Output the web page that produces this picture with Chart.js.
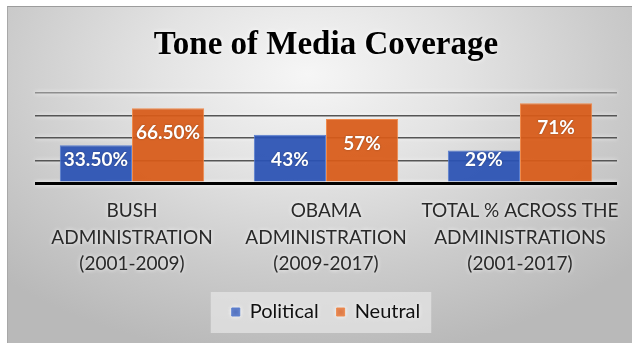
<!DOCTYPE html>
<html><head><meta charset="utf-8">
<script src="https://cdn.jsdelivr.net/npm/chart.js@4/dist/chart.umd.min.js"></script>
<style>
html,body{margin:0;padding:0;background:#fff;overflow:hidden;}
#wrap{position:relative;width:632px;height:345px;}
#panel{position:absolute;left:7px;top:6px;width:625px;height:337px;box-sizing:border-box;
  border-top:1px solid #9c9c9c;border-left:1px solid #a8a8a8;
  background:radial-gradient(ellipse 70% 85% at 48% 20%, #f6f6f6 0%, #e3e3e3 35%, #cbcbcb 70%, #b9b9b9 100%);}
#c{position:absolute;left:0;top:0;width:632px;height:345px;}
</style></head><body>
<div id="wrap"><div id="panel"></div><canvas id="c" width="632" height="345"></canvas></div>
<script>
const chartTitle = 'Tone of Media Coverage';
const categories = [
  ['BUSH', 'ADMINISTRATION', '(2001-2009)'],
  ['OBAMA', 'ADMINISTRATION', '(2009-2017)'],
  ['TOTAL % ACROSS THE', 'ADMINISTRATIONS', '(2001-2017)']
];
const seriesNames = ['Political', 'Neutral'];
const political = [33.5, 43, 29];
const neutral = [66.5, 57, 71];
const yMax = 80;
const yStep = 20;

const BLUE = 'rgba(42, 82, 180, 0.93)';
const ORANGE = 'rgba(216, 90, 24, 0.93)';

function pct(v) {
  return (Number.isInteger(v) ? String(v) : v.toFixed(2)) + '%';
}

// soft light box behind the legend items, then white glow for axis/legend text
const legendBox = {
  id: 'legendBox',
  beforeDraw(chart) {
    const ctx = chart.ctx;
    const boxes = chart.legend && chart.legend.legendHitBoxes;
    if (boxes && boxes.length) {
      const minX = Math.min(...boxes.map(b => b.left));
      const maxX = Math.max(...boxes.map(b => b.left + b.width));
      const top = Math.min(...boxes.map(b => b.top));
      const h = Math.max(...boxes.map(b => b.height));
      ctx.save();
      ctx.fillStyle = 'rgba(228,228,228,0.75)';
      ctx.fillRect(minX - 21, top - 10, (maxX - minX) + 32, h + 21);
      ctx.restore();
    }
    ctx.shadowColor = 'rgba(255,255,255,0.95)';
    ctx.shadowBlur = 4;
  },
  beforeDatasetsDraw(chart) {
    chart.ctx.shadowColor = 'rgba(0,0,0,0)';
    chart.ctx.shadowBlur = 0;
  }
};

const valueLabels = {
  id: 'valueLabels',
  afterDatasetsDraw(chart) {
    const ctx = chart.ctx;
    ctx.save();
    ctx.font = 'bold 19px Lato';
    ctx.fillStyle = '#ffffff';
    ctx.textAlign = 'center';
    ctx.textBaseline = 'middle';
    ctx.shadowColor = 'rgba(0,0,0,0.35)';
    ctx.shadowBlur = 2;
    chart.data.datasets.forEach((ds, di) => {
      chart.getDatasetMeta(di).data.forEach((bar, i) => {
        const y = Math.min(bar.y + 25, bar.base - 22);
        ctx.fillText(pct(ds.data[i]), bar.x, y);
      });
    });
    ctx.restore();
  }
};

const titleDraw = {
  id: 'titleDraw',
  afterDraw(chart) {
    const ctx = chart.ctx;
    const a = chart.chartArea;
    ctx.save();
    ctx.font = 'bold 33px "Liberation Serif"';
    ctx.fillStyle = '#000';
    ctx.textAlign = 'center';
    ctx.textBaseline = 'alphabetic';
    ctx.shadowColor = 'rgba(255,255,255,1)';
    ctx.shadowBlur = 5;
    ctx.fillText(chartTitle, (a.left + a.right) / 2, a.top - 39);
    ctx.restore();
  }
};

new Chart(document.getElementById('c'), {
  type: 'bar',
  data: {
    labels: categories,
    datasets: [
      { label: seriesNames[0], data: political, backgroundColor: BLUE, borderColor: '#5a7fd0', borderWidth: 1 },
      { label: seriesNames[1], data: neutral, backgroundColor: ORANGE, borderColor: '#ef8a4c', borderWidth: 1 }
    ]
  },
  options: {
    responsive: false,
    devicePixelRatio: 1,
    animation: false,
    layout: { padding: { top: 93, left: 35, right: 15, bottom: 13 } },
    datasets: { bar: { categoryPercentage: 0.744, barPercentage: 1.0 } },
    scales: {
      x: {
        grid: { display: false },
        border: { display: false },
        afterFit: s => { s.height = 101; },
        ticks: {
          color: '#2a2a2a',
          padding: 7,
          maxRotation: 0,
          autoSkip: false,
          font: { family: 'Lato', size: 19, lineHeight: 26.5 / 19 }
        }
      },
      y: {
        min: 0,
        max: yMax,
        border: { display: false },
        ticks: { display: false, stepSize: yStep },
        grid: {
          drawTicks: false,
          color: c => c.tick.value === 0 ? '#000' : (c.tick.value === yMax ? '#8e8e8e' : '#555'),
          lineWidth: c => c.tick.value === 0 ? 3 : 1.6
        }
      }
    },
    plugins: {
      title: { display: false },
      tooltip: { enabled: false },
      legend: {
        position: 'bottom',
        labels: {
          color: '#111',
          boxWidth: 8,
          boxHeight: 8,
          padding: 18,
          font: { family: 'Lato', size: 20 }
        }
      }
    }
  },
  plugins: [legendBox, valueLabels, titleDraw]
});
</script>
</body></html>
